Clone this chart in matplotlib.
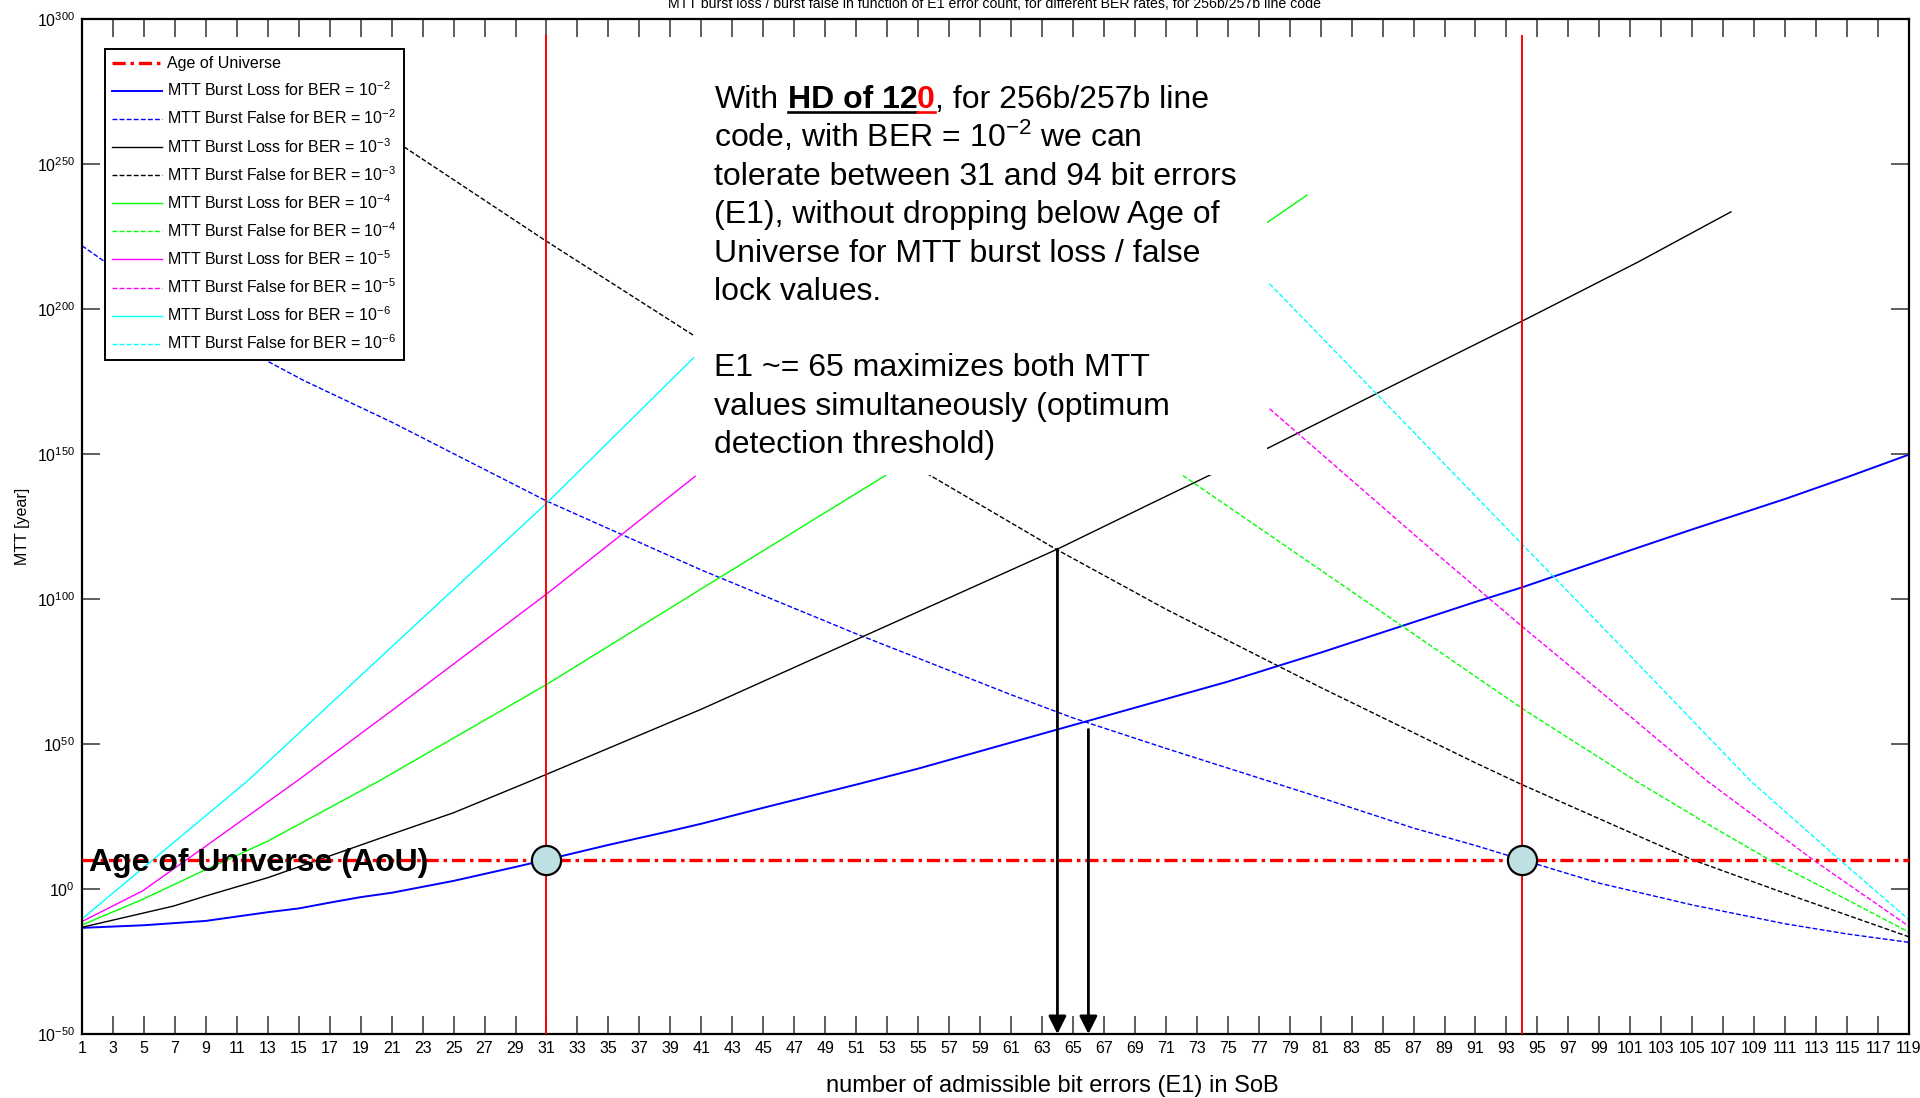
import numpy as np
import matplotlib
matplotlib.use('Agg')
import matplotlib.pyplot as plt
from matplotlib.lines import Line2D
from matplotlib.patches import Rectangle
from matplotlib.ticker import FixedLocator, NullLocator, FixedFormatter

plt.rcParams['font.family'] = ['Liberation Sans', 'DejaVu Sans']
plt.rcParams['mathtext.fontset'] = 'custom'
plt.rcParams['mathtext.rm'] = 'Liberation Sans'
plt.rcParams['mathtext.it'] = 'Liberation Sans:italic'
plt.rcParams['mathtext.bf'] = 'Liberation Sans:bold'
plt.rcParams['lines.scale_dashes'] = False

# ---------------- data (MTT values given as log10 of years) ----------------
loss_e2_x = [1, 5, 9, 13, 15, 17, 19, 21, 25, 27, 29, 31, 35, 39, 41, 45, 51, 55, 61, 65,
             71, 75, 81, 85, 91, 94, 101, 105, 111, 115, 119]
loss_e2_y = [-13.4, -12.5, -11.0, -8.0, -6.7, -4.7, -2.8, -1.3, 2.8, 5.2, 7.6, 10.1, 15.2, 20.0,
             22.5, 28.0, 36.0, 41.5, 50.5, 56.5, 65.5, 71.5, 81.5, 88.5, 99.0, 104.0, 116.8,
             124.0, 134.5, 142.0, 149.8]

false_e2_x = [1, 2.5, 12.7, 15.3, 21, 31, 41, 51, 61, 65, 71, 81, 87, 91, 94, 99, 101, 105,
              111, 115, 119]
false_e2_y = [221.8, 216.2, 182.8, 175.4, 161.0, 133.8, 110.0, 88.0, 67.0, 59.0, 48.5, 31.5,
              21.0, 15.0, 10.1, 2.0, -0.5, -5.5, -12.0, -15.5, -18.4]

loss_e3_x = [1, 6.9, 9, 13, 21, 25, 30, 41, 51, 61, 64, 70, 73.8, 77.7, 84.6, 94.3, 101.5, 107.5]
loss_e3_y = [-13.2, -5.9, -2.4, 3.9, 18.9, 26.3, 37.3, 62.0, 86.0, 110.0, 117.2, 132.8, 142.6,
             152.3, 170.8, 196.6, 216.2, 233.5]

false_e3_x = [21.8, 30.9, 40.5, 55.4, 63.9, 71, 81, 91, 94, 101, 105, 111, 115, 119]
false_e3_y = [255.9, 223.7, 190.9, 143.8, 117.2, 96.5, 69.5, 43.5, 36.0, 19.5, 10.1, -1.5,
              -9.0, -16.5]

loss_e4_x = [1, 4.9, 9, 13, 20.2, 31, 41, 52.8, 77.6, 80.1]
loss_e4_y = [-12.4, -3.6, 6.7, 16.5, 37.3, 70.5, 103.5, 142.3, 230.0, 239.2]

false_e4_x = [72.1, 79, 94, 101.4, 105.9, 110.1, 114.6, 119]
false_e4_y = [142.6, 117.3, 62.3, 37.1, 22.7, 9.7, -2.6, -14.9]

loss_e5_x = [1, 4.9, 9, 14.9, 21, 31, 40.6]
loss_e5_y = [-11.2, -0.7, 14.8, 37.3, 61.5, 101.7, 142.3]

false_e5_x = [77.7, 88.1, 94, 101, 106, 112.9, 119]
false_e5_y = [165.6, 117.3, 90.6, 59.5, 37.1, 9.7, -12.9]

loss_e6_x = [1, 11.7, 21, 31, 40.6]
loss_e6_y = [-10.3, 37.3, 83.5, 133.0, 183.7]

false_e6_x = [77.7, 84.6, 94.3, 101, 108.8, 114.6, 119]
false_e6_y = [208.7, 170.8, 117.3, 80.4, 37.1, 9.7, -10.6]

age_of_universe = 1.38e10
crossing_x = [31, 94]
red_line_top_exp = 294
arrow_x = [64, 66]
arrow_top_exp = [117.2, 55.0]

x_ticks = list(range(1, 120, 2))
y_tick_exps = list(range(-50, 301, 50))
ber_exps = [-2, -3, -4, -5, -6]

title = ("MTT burst loss / burst false in function of E1 error count, "
         "for different BER rates, for 256b/257b line code")

# ---------------- figure ----------------
W, H = 1920, 1098
fig = plt.figure(figsize=(W / 100, H / 100), dpi=100)
fig.patch.set_facecolor('white')


def fx(px):
    return px / W


def fy(py):
    return 1 - py / H


ax = fig.add_axes([fx(82), fy(1034), (1909 - 82) / W, (1034 - 19) / H])
ax.set_yscale('log')

series = [
    (loss_e2_x, loss_e2_y, '#0000ff', 'solid', 1.4),
    (false_e2_x, false_e2_y, '#0000ff', 'dash', 1.0),
    (loss_e3_x, loss_e3_y, '#000000', 'solid', 1.0),
    (false_e3_x, false_e3_y, '#000000', 'dash', 1.0),
    (loss_e4_x, loss_e4_y, '#00ff00', 'solid', 1.0),
    (false_e4_x, false_e4_y, '#00ff00', 'dash', 1.0),
    (loss_e5_x, loss_e5_y, '#ff00ff', 'solid', 1.0),
    (false_e5_x, false_e5_y, '#ff00ff', 'dash', 1.0),
    (loss_e6_x, loss_e6_y, '#00ffff', 'solid', 1.0),
    (false_e6_x, false_e6_y, '#00ffff', 'dash', 1.0),
]
labels = []
for e in ber_exps:
    labels.append('MTT Burst Loss for BER = 10$^{%d}$' % e)
    labels.append('MTT Burst False for BER = 10$^{%d}$' % e)

handles = []
aou_line = ax.axhline(age_of_universe, color='red', lw=2.4,
                      linestyle=(0, (9.5, 3.5, 2.5, 3.5)), zorder=3)
handles.append(aou_line)
for (xs, ys, c, st, lw) in series:
    ls = '-' if st == 'solid' else (0, (3.5, 1.6))
    ln, = ax.plot(xs, np.power(10.0, ys), color=c, lw=lw, linestyle=ls, zorder=2)
    handles.append(ln)

for xv in crossing_x:
    ax.plot([xv, xv], [1e-50, 10.0 ** red_line_top_exp], color='red', lw=1.4, zorder=3)

ax.plot(crossing_x, [age_of_universe] * len(crossing_x), linestyle='none', marker='o',
        ms=21, mfc='#bfe0e3', mec='black', mew=1.6, zorder=6)

for xa, ta in zip(arrow_x, arrow_top_exp):
    ax.annotate('', xy=(xa, 1e-50), xytext=(xa, 10.0 ** ta),
                arrowprops=dict(arrowstyle='-|>', lw=2.0, color='black',
                                mutation_scale=27, shrinkA=0, shrinkB=0),
                zorder=6)

ax.annotate('Age of Universe (AoU)', xy=(1.45, age_of_universe), xytext=(0, -8),
            textcoords='offset points', fontsize=23, weight='bold', va='baseline',
            ha='left', zorder=7)

# white text box hiding the curves behind the annotation
ax.add_patch(Rectangle((fx(694), fy(475)), (1267 - 694) / W, (475 - 70) / H,
                       transform=fig.transFigure, facecolor='white', edgecolor='none',
                       zorder=4))

ax.set_xlim(1, 119)
ax.set_ylim(1e-50, 1e300)
ax.xaxis.set_major_locator(FixedLocator(x_ticks))
ax.xaxis.set_major_formatter(FixedFormatter([str(v) for v in x_ticks]))
ax.yaxis.set_major_locator(FixedLocator([10.0 ** e for e in y_tick_exps]))
ax.yaxis.set_major_formatter(FixedFormatter(
    ['$\\mathdefault{10^{%d}}$' % e for e in y_tick_exps]))
ax.yaxis.set_minor_locator(NullLocator())
ax.xaxis.set_minor_locator(NullLocator())
ax.tick_params(axis='both', which='major', direction='in', length=13, width=1.1,
               color='#333333', top=True, right=True, labelsize=11.5, pad=5)
for sp in ax.spines.values():
    sp.set_linewidth(1.6)
    sp.set_color('black')

leg = ax.legend(handles, ['Age of Universe'] + labels, loc='upper left',
                bbox_to_anchor=(fx(105), fy(49)), bbox_transform=fig.transFigure,
                borderaxespad=0, fontsize=11.5, frameon=True, fancybox=False,
                framealpha=1, edgecolor='black', labelspacing=0.59, handlelength=3.1,
                handletextpad=0.35, borderpad=0.45)
leg.get_frame().set_linewidth(1.4)
leg.set_zorder(8)

fig.text(fx(995), fy(4), title, fontsize=10.2, ha='center', va='center')
fig.text(fx(23), fy(526), 'MTT [year]', rotation=90, fontsize=11.5, ha='center',
         va='center')
fig.text(fx(1052), fy(1086), 'number of admissible bit errors (E1) in SoB', fontsize=17,
         ha='center', va='center')

# ---------------- annotation text block ----------------
fs = 23
x0 = 714.5
base0 = 108.3
step = 38.3
lines = [
    None,
    'code, with BER = 10$^{-2}$ we can',
    'tolerate between 31 and 94 bit errors',
    '(E1), without dropping below Age of',
    'Universe for MTT burst loss / false',
    'lock values.',
    '',
    'E1 ~= 65 maximizes both MTT',
    'values simultaneously (optimum',
    'detection threshold)',
]
for i, s in enumerate(lines):
    if s:
        fig.text(fx(x0), fy(base0 + i * step), s, fontsize=fs, ha='left', va='baseline',
                 zorder=6)

renderer = fig.canvas.get_renderer()
em = fs * 100 / 72.0
t1 = fig.text(fx(x0), fy(base0), 'With', fontsize=fs, ha='left', va='baseline', zorder=6)
w1 = t1.get_window_extent(renderer).width
x1 = x0 + w1 + 0.278 * em
t2 = fig.text(fx(x1), fy(base0), 'HD of 12', fontsize=fs, weight='bold', ha='left',
              va='baseline', zorder=6)
x2 = x1 + t2.get_window_extent(renderer).width
t3 = fig.text(fx(x2), fy(base0), '0', fontsize=fs, weight='bold', color='red', ha='left',
              va='baseline', zorder=6)
x3 = x2 + t3.get_window_extent(renderer).width
fig.text(fx(x3), fy(base0), ', for 256b/257b line', fontsize=fs, ha='left',
         va='baseline', zorder=6)
uy = base0 + 3.8
fig.add_artist(Line2D([fx(x1), fx(x2)], [fy(uy), fy(uy)], color='black', lw=1.9,
                      zorder=6))
fig.add_artist(Line2D([fx(x2), fx(x3)], [fy(uy), fy(uy)], color='red', lw=1.9, zorder=6))

fig.savefig('out.png', dpi=100, facecolor='white')
